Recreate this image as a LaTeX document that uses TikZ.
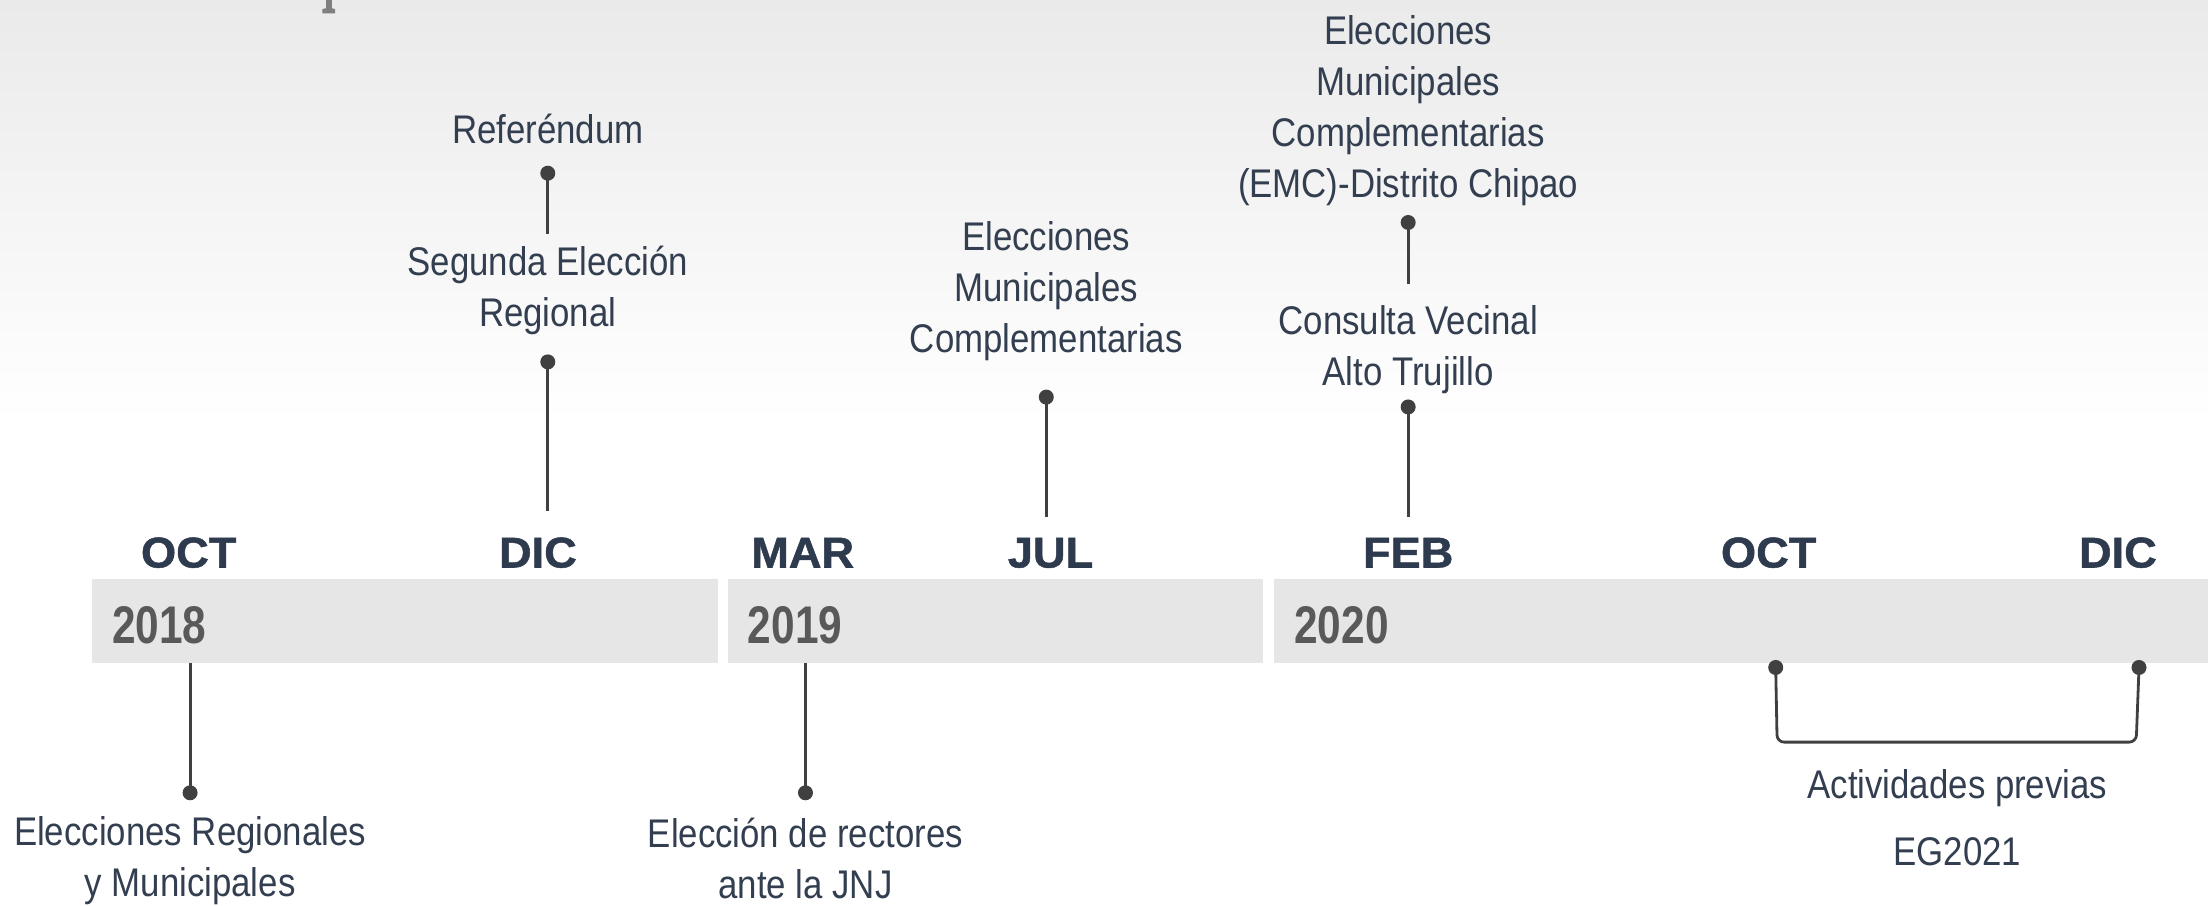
\documentclass[tikz,border=0pt]{standalone}
\usepackage{fontspec}
\setmainfont{Liberation Sans}[FakeStretch=0.87]
\newfontfamily\yearfam{Liberation Sans}[FakeStretch=0.80]
\newfontfamily\monthfam{Liberation Sans}[FakeStretch=1.05,BoldFeatures={FakeBold=1.2}]
\definecolor{navy}{HTML}{333F50}
\definecolor{monthc}{HTML}{2E3A4E}
\definecolor{yearc}{HTML}{595959}
\definecolor{barc}{HTML}{E6E6E6}
\definecolor{linec}{HTML}{404040}
\definecolor{bgtop}{HTML}{EAEAEA}
\definecolor{fragc}{HTML}{7F7F7F}
\begin{document}
\begin{tikzpicture}[x=1.408pt,y=-1.408pt,
  ev/.style={font=\fontsize{40}{51}\selectfont, text=navy, align=center, inner sep=0pt},
  month/.style={font=\monthfam\bfseries\fontsize{43}{43}\selectfont, text=monthc, anchor=base, inner sep=0pt},
  year/.style={font=\yearfam\bfseries\fontsize{53}{53}\selectfont, text=yearc, anchor=base west, inner sep=0pt},
  dot/.style={circle, fill=linec, inner sep=0pt, minimum size=15pt},
  conn/.style={draw=linec, line width=2.8pt},
  bar/.style={fill=barc}]
\useasboundingbox (0,0) rectangle (1568,643);
\fill[top color=bgtop, bottom color=white] (0,0) rectangle (1568,300);
% fragment of a cut-off title glyph at the top edge
\fill[fragc] (231.5,0) rectangle (235.5,6.5);
\fill[fragc] (229,6.5) .. controls (231,5.5) and (236,5.5) .. (238,6.5) -- (238,9.5) -- (229,9.5) -- cycle;
% bars
\fill[bar] (65,411) rectangle (510,471);
\fill[bar] (517,411) rectangle (897,471);
\fill[bar] (905,411) rectangle (1568,471);
% years
\node[year] (y2018) at (79.5,456.7) {2018};
\node[year] (y2019) at (531,456.7) {2019};
\node[year] (y2020) at (919,456.7) {2020};
% months
\node[month] (m1) at (134,403) {OCT};
\node[month] (m2) at (382,403) {DIC};
\node[month] (m3) at (570,403) {MAR};
\node[month] (m4) at (746,403) {JUL};
\node[month] (m5) at (1000,403) {FEB};
\node[month] (m6) at (1256,403) {OCT};
\node[month] (m7) at (1504,403) {DIC};
% event labels
\node[ev] (ref) at (389,91.5) {Referéndum};
\node[ev] (seg) at (389,206) {Segunda Elección\\Regional};
\node[ev] (jul) at (743,206.5) {Elecciones\\Municipales\\Complementarias};
\node[ev] (emc) at (1000,78.5) {Elecciones\\Municipales\\Complementarias\\(EMC)-Distrito Chipao};
\node[ev] (cv) at (1000,248) {Consulta Vecinal\\Alto Trujillo};
\node[ev] (erm) at (135,611) {Elecciones Regionales\\y Municipales};
\node[ev] (rec) at (572,609.5) {Elección de rectores\\ante la JNJ};
\node[ev] (act) at (1390,560) {Actividades previas};
\node[ev] (eg) at (1390,605) {EG2021};
% dots
\node[dot] (dRef) at (389,123) {};
\node[dot] (dSeg) at (389,257) {};
\node[dot] (dJul) at (743,282) {};
\node[dot] (dEmc) at (1000,158) {};
\node[dot] (dCv) at (1000,289) {};
\node[dot] (dOct) at (135,563) {};
\node[dot] (dMar) at (572,563) {};
\node[dot] (dBl) at (1261,474) {};
\node[dot] (dBr) at (1519,474) {};
% connector ends
\coordinate (cRef) at (389,166);
\coordinate (cSeg) at (389,363);
\coordinate (cJul) at (743,367);
\coordinate (cEmc) at (1000,202);
\coordinate (cCv) at (1000,367);
\coordinate (cOct) at (135,471);
\coordinate (cMar) at (572,471);
\coordinate (bL) at (1262,527);
\coordinate (bR) at (1517,527);
% connectors
\draw[conn] (dRef.center) -- (cRef);
\draw[conn] (dSeg.center) -- (cSeg);
\draw[conn] (dJul.center) -- (cJul);
\draw[conn] (dEmc.center) -- (cEmc);
\draw[conn] (dCv.center) -- (cCv);
\draw[conn] (cOct) -- (dOct.center);
\draw[conn] (cMar) -- (dMar.center);
\draw[conn, rounded corners=7pt] (dBl.center) -- (bL) -- (bR) -- (dBr.center);
\end{tikzpicture}
\end{document}
